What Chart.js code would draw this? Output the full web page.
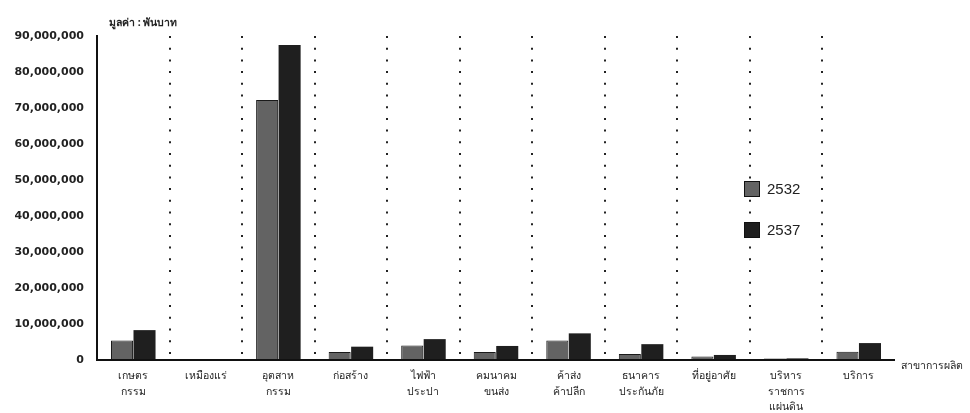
<!DOCTYPE html>
<html>
<head>
<meta charset="utf-8">
<script src="https://cdn.jsdelivr.net/npm/chart.js@4/dist/chart.umd.min.js"></script>
<style>
    html, body { margin: 0; padding: 0; background: #ffffff; }
    #wrap { width: 970px; height: 413px; position: relative; }
</style>
</head>
<body>
<div id="wrap"><canvas id="gdpChart"></canvas></div>
<script>
// Categories (production sectors), each an array of label lines
const sectors = [
    ['เกษตร', 'กรรม'],
    ['เหมืองแร่'],
    ['อุตสาห', 'กรรม'],
    ['ก่อสร้าง'],
    ['ไฟฟ้า', 'ประปา'],
    ['คมนาคม', 'ขนส่ง'],
    ['ค้าส่ง', 'ค้าปลีก'],
    ['ธนาคาร', 'ประกันภัย'],
    ['ที่อยู่อาศัย'],
    ['บริหาร', 'ราชการ', 'แผ่นดิน'],
    ['บริการ']
];

// Values in thousand baht
const years = ['2532', '2537'];
const values2532 = [5400000, 100000, 72200000, 2200000, 4000000, 2200000, 5400000, 1700000, 1000000, 400000, 2300000];
const values2537 = [8300000, 150000, 87500000, 3700000, 5800000, 3900000, 7400000, 4400000, 1400000, 450000, 4700000];

// Y axis ticks
const yMax = 90000000;
const yStep = 10000000;

const yTitle = 'มูลค่า : พันบาท';
const xTitle = 'สาขาการผลิต';

const thaiFont = "'Noto Sans', 'DejaVu Sans', sans-serif";

// Draws the axis captions, the baseline and the legend
const extrasPlugin = {
    id: 'extras',
    afterDraw(chart) {
        const ctx = chart.ctx;
        const area = chart.chartArea;
        ctx.save();
        // solid baseline (the x border is used for the dotted separators)
        ctx.strokeStyle = '#111';
        ctx.lineWidth = 2;
        ctx.beginPath();
        ctx.moveTo(area.left - 1, area.bottom);
        ctx.lineTo(area.right, area.bottom);
        ctx.stroke();

        ctx.fillStyle = '#222';
        ctx.font = 'bold 10.5px ' + thaiFont;
        ctx.textBaseline = 'middle';
        ctx.textAlign = 'left';
        ctx.fillText(yTitle, area.left + 12, area.top - 13);
        ctx.font = '10.5px ' + thaiFont;
        ctx.fillText(xTitle, area.right + 6, area.bottom + 6);

        // legend
        ctx.font = '15px "Liberation Sans", Arial, sans-serif';
        chart.data.datasets.forEach((ds, i) => {
            const y = 189 + i * 41;
            ctx.fillStyle = ds.backgroundColor;
            ctx.fillRect(744, y - 8, 16, 16);
            ctx.strokeStyle = '#111';
            ctx.lineWidth = 1;
            ctx.strokeRect(744.5, y - 7.5, 15, 15);
            ctx.fillStyle = '#222';
            ctx.fillText(ds.label, 767, y + 1);
        });
        ctx.restore();
    }
};

const ctx = document.getElementById('gdpChart').getContext('2d');
new Chart(ctx, {
    type: 'bar',
    data: {
        labels: sectors,
        datasets: [
            {
                label: years[0],
                data: values2532,
                backgroundColor: '#636363',
                borderColor: '#1a1a1a',
                borderWidth: 1,
                categoryPercentage: 0.62,
                barPercentage: 0.98
            },
            {
                label: years[1],
                data: values2537,
                backgroundColor: '#1f1f1f',
                borderWidth: 0,
                categoryPercentage: 0.62,
                barPercentage: 0.98
            }
        ]
    },
    options: {
        responsive: true,
        maintainAspectRatio: false,
        animation: false,
        layout: { padding: { top: 36, right: 75, left: 0, bottom: 0 } },
        plugins: {
            legend: { display: false },
            tooltip: { enabled: false }
        },
        scales: {
            x: {
                grid: {
                    offset: true,
                    drawTicks: false,
                    lineWidth: 2,
                    // only the inner separators, none on the outer edges
                    color: c => (c.type !== 'tick' || c.index === 0) ? 'rgba(0,0,0,0)' : '#222'
                },
                border: { display: false, dash: [2, 9.7] },
                ticks: {
                    color: '#222',
                    font: { family: thaiFont, size: 10.5, lineHeight: 1.5 },
                    padding: 8,
                    maxRotation: 0,
                    autoSkip: false
                },
                afterFit: scale => { scale.height = 53; }
            },
            y: {
                min: 0,
                max: yMax,
                grid: { display: false, drawTicks: false },
                border: { display: true, color: '#111', width: 2 },
                ticks: {
                    stepSize: yStep,
                    color: '#222',
                    padding: 13,
                    font: { family: "'DejaVu Sans', sans-serif", size: 11, weight: 'bold' },
                    callback: v => v.toLocaleString('en-US')
                },
                afterFit: scale => { scale.width = 97; }
            }
        }
    },
    plugins: [extrasPlugin]
});
</script>
</body>
</html>
